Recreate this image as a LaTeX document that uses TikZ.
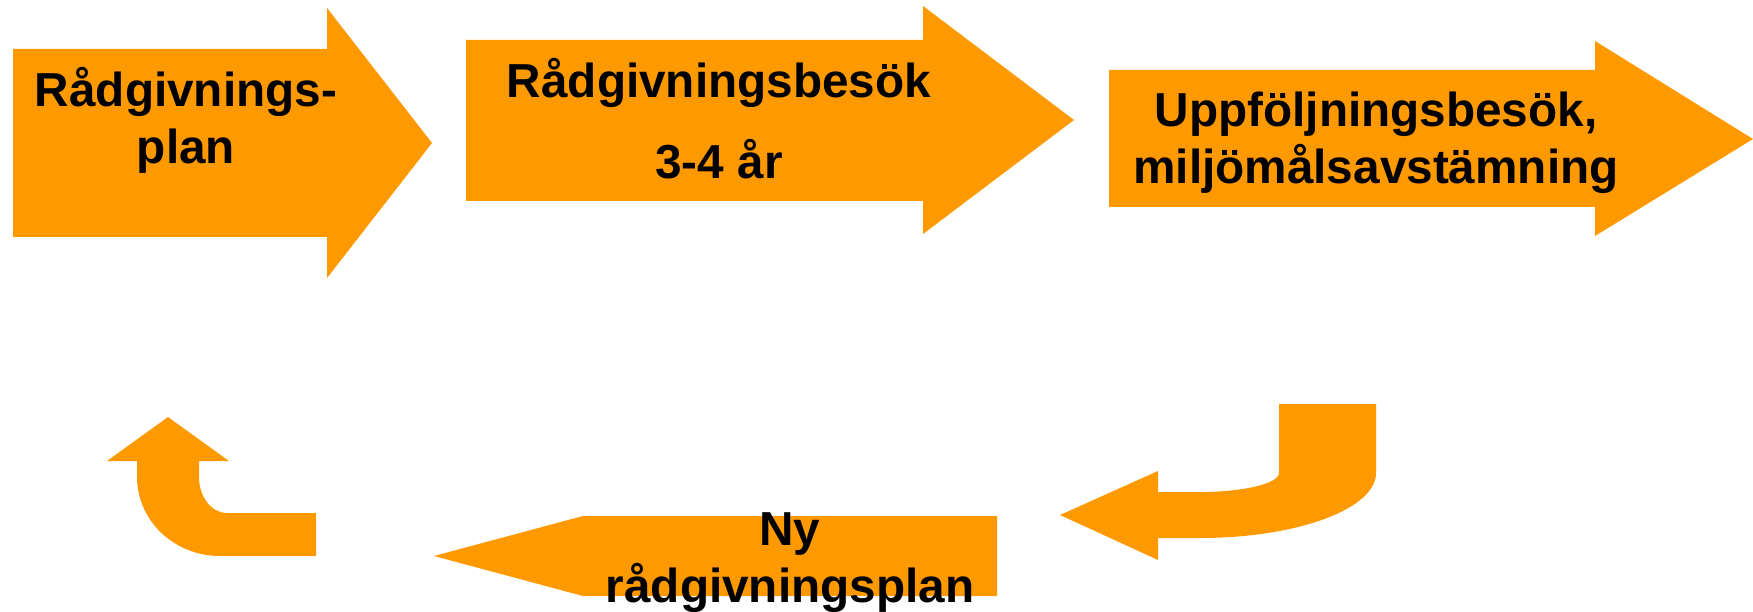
\documentclass[tikz,border=0pt]{standalone}
\usepackage{fontspec}
\setmainfont{Liberation Sans}
\definecolor{arroworange}{RGB}{255,153,0}

\begin{document}
\begin{tikzpicture}[
      x=1pt, y=-1pt,
      blockarrow/.style={fill=arroworange, draw=none},
      txt/.style={font=\fontsize{47.7}{57}\selectfont\bfseries, align=center, anchor=base, inner sep=0pt}
    ]
      \useasboundingbox (0,0) rectangle (1753,612);

      % Top row of arrows
      \fill[blockarrow] (13,49) -- (327,49) -- (327,8) -- (432,143) -- (327,278) -- (327,237) -- (13,237) -- cycle;
      \fill[blockarrow] (466,40) -- (923,40) -- (923,6) -- (1074,120) -- (923,234) -- (923,201) -- (466,201) -- cycle;
      \fill[blockarrow] (1109,70) -- (1595,70) -- (1595,41) -- (1753,139) -- (1595,236) -- (1595,207) -- (1109,207) -- cycle;

      % Turn down and back
      \fill[blockarrow] (1279,404) -- (1376,404) -- (1376,473)
        .. controls (1376,508.9) and (1297.2,538) .. (1200,538)
        -- (1158,538) -- (1158,560) -- (1060,515) -- (1158,471) -- (1158,492) -- (1200,492)
        .. controls (1243.6,492) and (1279,483.5) .. (1279,473) -- cycle;

      % Bottom arrow, pointing left
      \fill[blockarrow] (434,556) -- (583,516) -- (997,516) -- (997,596) -- (583,596) -- cycle;

      % Turn up to the start
      \fill[blockarrow] (168,417) -- (229,461) -- (199,461) -- (199,477)
        .. controls (199,496.9) and (211.5,513) .. (227,513)
        -- (316,513) -- (316,556) -- (220,556)
        .. controls (174.2,556) and (137,520.6) .. (137,477)
        -- (137,461) -- (107,461) -- cycle;

      % Texts (base = last line)
      \node[txt] (plan) at (186,164) {Rådgivnings-\\plan};
      \node[txt] (visit) at (719,179) {Rådgivningsbesök\\[24pt]3-4 år};
      \node[txt] (followup) at (1376,184) {Uppföljningsbesök,\\miljömålsavstämning};
      \node[txt] (newplan) at (790,602) {Ny\\rådgivningsplan};

    \end{tikzpicture}
\end{document}
